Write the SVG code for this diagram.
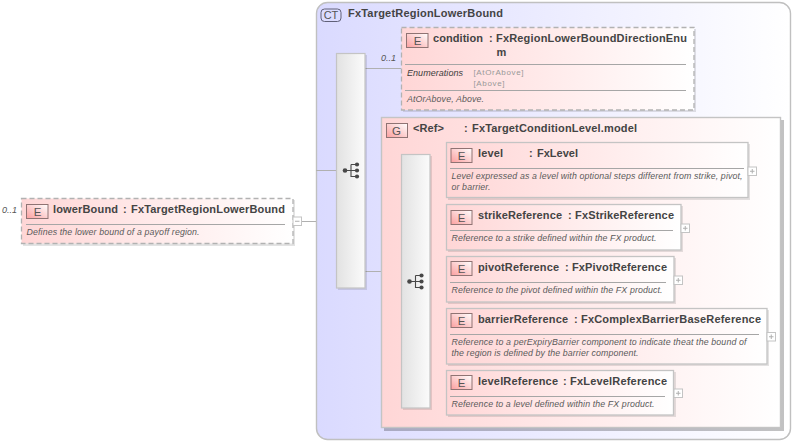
<svg xmlns="http://www.w3.org/2000/svg" width="795" height="443" viewBox="0 0 795 443">
<style>
text{font-family:"Liberation Sans",Arial,sans-serif;fill:#444}
.t{font-size:11px;font-weight:bold}
.d{font-size:8.800px;font-style:italic;fill:#5a5a5a}
.c{font-size:9px;font-style:italic;fill:#555}
.v{font-size:8px;fill:#999}
.en{font-size:9px;font-style:italic;fill:#3c3c3c}
.sh{fill:#000;fill-opacity:.11;stroke:none}
.gs{fill:#000;fill-opacity:.24;stroke:none}
.el{fill:url(#pink);stroke:#c4c4c4;stroke-width:1.3}
.opt{stroke-dasharray:5 3;stroke:#b2b2b2}
.sep{stroke:#a6a6a6;stroke-width:1;fill:none}
.badge{fill:url(#bd);stroke:#8f7373;stroke-width:1}
.bt{font-size:11.500px;text-anchor:middle;fill:#555}
.seq{fill:url(#gr);stroke:#c4c4c4;stroke-width:1.2}
.con{stroke:#b0b0b0;stroke-width:1;fill:none}
.ex{fill:#fff;stroke:#c4c4c4;stroke-width:1}
.exl{stroke:#b0b0b0;stroke-width:1;fill:none}
.ic{fill:#484848;stroke:none}
.icl{stroke:#484848;stroke-width:1.1;fill:none}
</style>
<defs>
<linearGradient id="pink" x1="0" y1="0" x2="1" y2="0"><stop offset="0" stop-color="#ffd6d6"/><stop offset="1" stop-color="#fff"/></linearGradient>
<linearGradient id="blue" x1="0" y1="0" x2="1" y2="0"><stop offset="0" stop-color="#dadaff"/><stop offset="1" stop-color="#fff"/></linearGradient>
<linearGradient id="gr" x1="0" y1="0" x2="1" y2="0"><stop offset="0" stop-color="#e2e2e2"/><stop offset="1" stop-color="#fbfbfb"/></linearGradient>
<linearGradient id="bd" x1="1" y1="0" x2="0" y2="1"><stop offset="0" stop-color="#fff"/><stop offset="1" stop-color="#fb9f9f"/></linearGradient>
<g id="icon"><circle class="ic" cx="0" cy="0" r="2.3"/><circle class="ic" cx="12" cy="-6" r="2.100"/><circle class="ic" cx="12" cy="0" r="2.100"/><circle class="ic" cx="12" cy="6" r="2.100"/><path class="icl" d="M0 0H6M6 -6H12M6 -6V6H12M6 0H12"/></g>
<g id="plus"><rect class="ex" x="0" y="0" width="8.500" height="8.500"/><path class="exl" d="M2 4.250H6.500M4.250 2V6.500"/></g>
</defs>

<g id="ct-FxTargetRegionLowerBound">
<rect x="316.500" y="2.500" width="474" height="437" rx="11" fill="url(#blue)" stroke="#c0c0c0" stroke-width="1.4"/>
<rect x="321" y="9" width="20" height="12.500" rx="3.500" fill="#dcdcff" stroke="#606078" stroke-width="1"/>
<text x="331" y="19" class="bt" style="font-size:11px">CT</text>
<text x="348" y="17" class="t" textLength="155">FxTargetRegionLowerBound</text>
</g>

<g id="connectors">
<path class="con" d="M302 221.500H316M316 170.500H336M365 68.500H401M365 271.500H381M381 281.500H401M430 170.500H446M430 226.500H446M430 278.500H446M430 336.500H446M430 392.500H446"/>
</g>

<g id="el-lowerBound">
<rect class="sh" x="23" y="200" width="272" height="46"/>
<rect class="el opt" x="21.500" y="198.500" width="271.500" height="45"/>
<rect class="badge" x="26.500" y="204.500" width="21.500" height="14"/>
<text x="37.500" y="216" class="bt">E</text>
<text x="53" y="213" class="t" textLength="65">lowerBound</text>
<text x="123" y="213" class="t">:</text>
<text x="131" y="213" class="t" textLength="154">FxTargetRegionLowerBound</text>
<path class="sep" d="M26 224.500H285"/>
<text x="26.500" y="235" class="d" textLength="173">Defines the lower bound of a payoff region.</text>
<text x="2" y="213" class="c">0..1</text>
<rect class="ex" x="293" y="217" width="8.500" height="8.500"/><path class="exl" d="M295 221.250H299.500"/>
</g>

<g id="seq-outer">
<rect class="sh" x="338" y="55" width="29" height="235"/>
<rect class="seq" x="336.500" y="53.500" width="28.500" height="234.500"/>
<use href="#icon" x="345" y="170.500"/>
</g>

<g id="el-condition">
<rect class="sh" x="403" y="29" width="293" height="83"/>
<rect class="el opt" x="401.500" y="27.500" width="292.500" height="82.500"/>
<rect class="badge" x="406.500" y="33.500" width="21.500" height="14"/>
<text x="417.500" y="45" class="bt">E</text>
<text x="433" y="42" class="t" textLength="50">condition</text>
<text x="489" y="42" class="t">:</text>
<text x="496" y="42" class="t" textLength="191">FxRegionLowerBoundDirectionEnu</text>
<text x="496.500" y="56" class="t">m</text>
<path class="sep" d="M405 64.500H686M405 90.500H686"/>
<text x="407" y="75.500" class="en" textLength="56">Enumerations</text>
<text x="473.500" y="75" class="v" textLength="50">[AtOrAbove]</text>
<text x="473.500" y="85.500" class="v" textLength="31">[Above]</text>
<text x="407" y="101.500" class="d" textLength="77">AtOrAbove, Above.</text>
<text x="381" y="61" class="c">0..1</text>
</g>

<g id="group-ref">
<rect class="gs" x="384" y="120" width="400" height="311"/>
<rect x="381.500" y="117.500" width="399" height="310" fill="url(#pink)" stroke="#c4c4c4" stroke-width="1.400"/>
<rect class="badge" x="386.500" y="123.500" width="21" height="14"/>
<text x="396.500" y="135" class="bt">G</text>
<text x="413" y="132" class="t" textLength="31">&lt;Ref&gt;</text>
<text x="464" y="132" class="t">:</text>
<text x="472" y="132" class="t" textLength="165">FxTargetConditionLevel.model</text>
</g>

<g id="seq-inner">
<rect class="sh" x="403" y="156" width="29" height="254"/>
<rect class="seq" x="401.500" y="154.500" width="28.500" height="253.500"/>
<use href="#icon" x="409.500" y="281.500"/>
</g>

<g id="el-level">
<rect class="sh" x="448" y="144" width="302" height="56"/>
<rect class="el" x="446.500" y="142.500" width="301.500" height="55"/>
<rect class="badge" x="451" y="148.500" width="21" height="14"/>
<text x="461.500" y="160" class="bt">E</text>
<text x="478" y="157" class="t" textLength="25">level</text>
<text x="529" y="157" class="t">:</text>
<text x="537" y="157" class="t" textLength="41">FxLevel</text>
<path class="sep" d="M450 168.500H744"/>
<text x="451.500" y="179" class="d" textLength="291">Level expressed as a level with optional steps different from strike, pivot,</text>
<text x="451.500" y="189.500" class="d" textLength="39">or barrier.</text>
<use href="#plus" x="748" y="167"/>
</g>

<g id="el-strikeReference">
<rect class="sh" x="448" y="206" width="235" height="46"/>
<rect class="el" x="446.500" y="204.500" width="234.500" height="45.500"/>
<rect class="badge" x="451" y="210.500" width="21" height="14"/>
<text x="461.500" y="222" class="bt">E</text>
<text x="478" y="219" class="t" textLength="84">strikeReference</text>
<text x="568" y="219" class="t">:</text>
<text x="575" y="219" class="t" textLength="99">FxStrikeReference</text>
<path class="sep" d="M450 230.500H673"/>
<text x="451.500" y="241" class="d" textLength="205">Reference to a strike defined within the FX product.</text>
<use href="#plus" x="681" y="224"/>
</g>

<g id="el-pivotReference">
<rect class="sh" x="448" y="258" width="228" height="46"/>
<rect class="el" x="446.500" y="256.500" width="227.500" height="45.500"/>
<rect class="badge" x="451" y="261.500" width="21" height="14"/>
<text x="461.500" y="273" class="bt">E</text>
<text x="478" y="271" class="t" textLength="81">pivotReference</text>
<text x="565" y="271" class="t">:</text>
<text x="572" y="271" class="t" textLength="95">FxPivotReference</text>
<path class="sep" d="M450 282.500H666"/>
<text x="451.500" y="293" class="d" textLength="211">Reference to the pivot defined within the FX product.</text>
<use href="#plus" x="674" y="276"/>
</g>

<g id="el-barrierReference">
<rect class="sh" x="448" y="310" width="321" height="56"/>
<rect class="el" x="446.500" y="308.500" width="320.500" height="55.500"/>
<rect class="badge" x="451" y="313.500" width="21" height="14"/>
<text x="461.500" y="325" class="bt">E</text>
<text x="478" y="323" class="t" textLength="90">barrierReference</text>
<text x="574" y="323" class="t">:</text>
<text x="581" y="323" class="t" textLength="180">FxComplexBarrierBaseReference</text>
<path class="sep" d="M450 334.500H759"/>
<text x="451.500" y="345" class="d" textLength="295">Reference to a perExpiryBarrier component to indicate theat the bound of</text>
<text x="451.500" y="355.500" class="d" textLength="187">the region is defined by the barrier component.</text>
<use href="#plus" x="767" y="332.500"/>
</g>

<g id="el-levelReference">
<rect class="sh" x="448" y="372" width="228" height="45"/>
<rect class="el" x="446.500" y="370.500" width="227" height="44.500"/>
<rect class="badge" x="451" y="375.500" width="21" height="14"/>
<text x="461.500" y="387" class="bt">E</text>
<text x="478" y="385" class="t" textLength="80">levelReference</text>
<text x="563" y="385" class="t">:</text>
<text x="570" y="385" class="t" textLength="97">FxLevelReference</text>
<path class="sep" d="M450 396.500H665"/>
<text x="451.500" y="407" class="d" textLength="203">Reference to a level defined within the FX product.</text>
<use href="#plus" x="674" y="389"/>
</g>
</svg>
